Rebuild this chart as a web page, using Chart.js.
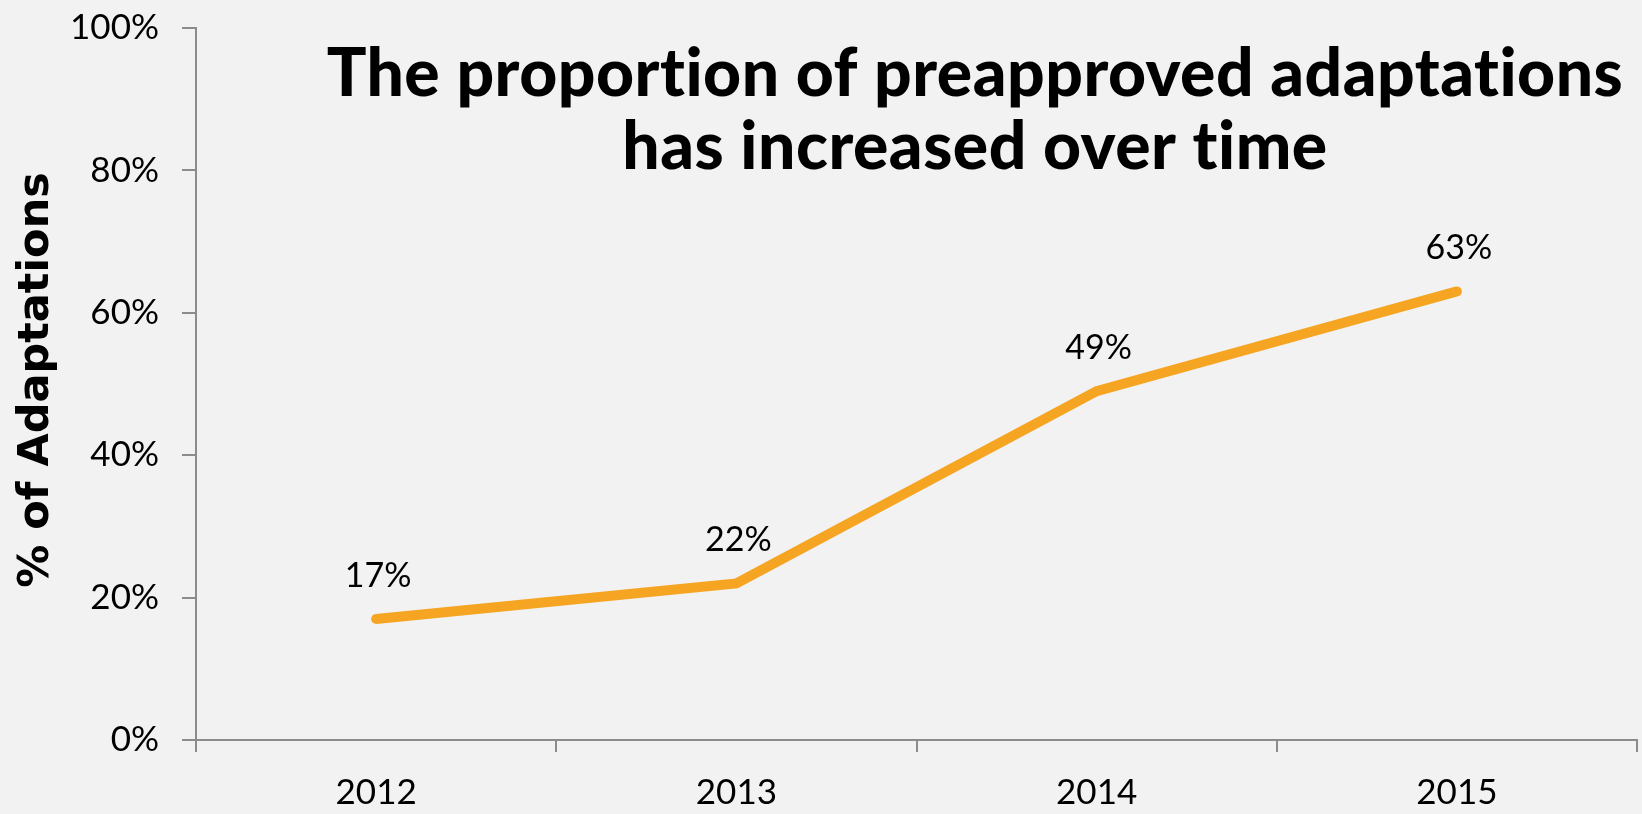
<!DOCTYPE html>
<html>
<head>
<meta charset="utf-8">
<script src="https://cdn.jsdelivr.net/npm/chart.js@4"></script>
<style>
  html, body { margin: 0; padding: 0; background: #f2f2f2; }
  #wrap { width: 1642px; height: 814px; position: relative; }
</style>
</head>
<body>
<div id="wrap"><canvas id="chart" width="1642" height="814"></canvas></div>
<script>
const years = ['2012', '2013', '2014', '2015'];
const preapprovedPct = [17, 22, 49, 63];
const yTicks = [0, 20, 40, 60, 80, 100];
const titleLines = ['The proportion of preapproved adaptations', 'has increased over time'];
const yAxisTitle = '% of Adaptations';

const AXIS_COLOR = '#8c8c8c';
const LINE_COLOR = 'rgb(246, 165, 35)';
const FONT = 'Lato, "Open Sans", sans-serif';

// draws the value above each point
const valueLabels = {
    id: 'valueLabels',
    afterDatasetsDraw(chart) {
        const ctx = chart.ctx;
        const meta = chart.getDatasetMeta(0);
        ctx.save();
        ctx.font = '34px ' + FONT;
        ctx.fillStyle = '#000';
        ctx.textAlign = 'center';
        ctx.textBaseline = 'middle';
        meta.data.forEach((pt, i) => {
            ctx.fillText(preapprovedPct[i] + '%', pt.x + 2, pt.y - 43);
        });
        ctx.restore();
    }
};

// big title inside the plot area + rotated y title
const extraText = {
    id: 'extraText',
    afterDraw(chart) {
        const ctx = chart.ctx;
        ctx.save();
        ctx.font = '900 66px ' + FONT;
        ctx.letterSpacing = '0.5px';
        ctx.fillStyle = '#000';
        ctx.textAlign = 'center';
        ctx.textBaseline = 'middle';
        ctx.fillText(titleLines[0], 975, 75);
        ctx.fillText(titleLines[1], 975, 148);
        ctx.restore();

        ctx.save();
        ctx.font = 'bold 43px "DejaVu Sans", sans-serif';
        ctx.fillStyle = '#000';
        ctx.textAlign = 'center';
        ctx.textBaseline = 'middle';
        ctx.translate(37, 380);
        ctx.rotate(-Math.PI / 2);
        ctx.fillText(yAxisTitle, 0, 0);
        ctx.restore();
    }
};

new Chart(document.getElementById('chart'), {
    type: 'line',
    data: {
        labels: years,
        datasets: [{
            data: preapprovedPct,
            borderColor: LINE_COLOR,
            borderWidth: 10,
            borderCapStyle: 'round',
            borderJoinStyle: 'miter',
            pointRadius: 0,
            tension: 0,
            fill: false
        }]
    },
    options: {
        responsive: false,
        animation: false,
        layout: { padding: { top: 28, right: 5, left: 0, bottom: 0 } },
        plugins: {
            legend: { display: false },
            tooltip: { enabled: false }
        },
        scales: {
            x: {
                offset: true,
                grid: {
                    offset: true,
                    drawOnChartArea: false,
                    drawTicks: true,
                    tickLength: 12,
                    color: AXIS_COLOR,
                    lineWidth: 2
                },
                border: { display: true, color: AXIS_COLOR, width: 2 },
                ticks: {
                    color: '#000',
                    font: { family: FONT, size: 35 },
                    padding: 20
                },
                afterFit(scale) {
                    scale.height = 74;
                    scale.paddingLeft = 0;
                    scale.paddingRight = 0;
                }
            },
            y: {
                min: 0,
                max: 100,
                afterBuildTicks(scale) {
                    scale.ticks = yTicks.map(v => ({ value: v }));
                },
                grid: {
                    drawOnChartArea: false,
                    drawTicks: true,
                    tickLength: 14,
                    color: AXIS_COLOR,
                    lineWidth: 2
                },
                border: { display: true, color: AXIS_COLOR, width: 2 },
                ticks: {
                    color: '#000',
                    font: { family: FONT, size: 35 },
                    padding: 23,
                    callback: v => v + '%'
                },
                afterFit(scale) {
                    scale.width = 196;
                    scale.paddingTop = 0;
                    scale.paddingBottom = 0;
                }
            }
        }
    },
    plugins: [valueLabels, extraText]
});
</script>
</body>
</html>
